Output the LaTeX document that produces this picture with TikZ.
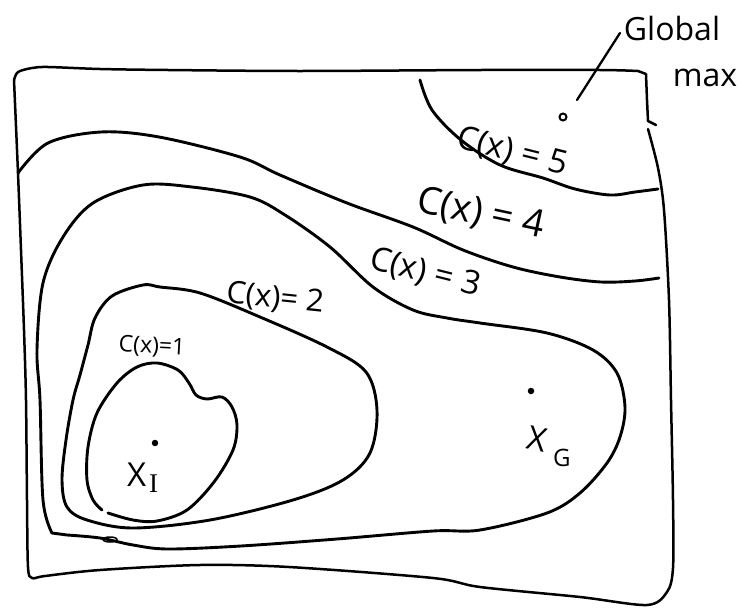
\documentclass[tikz,border=0pt]{standalone}
\usepackage{fontspec}
\setmainfont{Open Sans}
\newfontfamily\serifI{Liberation Serif}
\begin{document}
\begin{tikzpicture}[x=1pt,y=-1pt,
  contour/.style={line width=2.9pt,line cap=round,line join=round,smooth,tension=0.55},
  framestyle/.style={line width=2.5pt,line cap=round,line join=round},
  lab/.style={inner sep=0pt,font=\fontsize{#1}{#1}\selectfont},
  fdot/.style={circle,fill=black,inner sep=0pt,minimum size=6.5pt},
  hdot/.style={circle,draw=black,line width=2pt,inner sep=0pt,minimum size=7pt}]
\useasboundingbox (0,0) rectangle (748,608);
% frame
\draw[framestyle] plot[smooth,tension=0.5] coordinates {(14,80) (18,72) (32,68) (48,67) (100,69) (168,70) (300,71) (481,70) (600,70) (638,71)};
\draw[framestyle] (638,71) -- (646,74) -- (647,100) -- (648,121) -- (656,125);
\draw[framestyle] plot[smooth,tension=0.5] coordinates {(648,129) (658,168) (664,210) (669,300) (671,400) (673,500) (673,568) (667,592) (647,605) (580,597) (480,587) (433,578) (289,567) (200,565) (100,570) (45,576) (32,578) (28,567) (27,500) (26,400) (24,330) (21,250) (18,173) (14,80)};
% C(x)=5
\draw[contour] plot coordinates {(420,80) (432,110) (461,140) (500,165) (543,178) (575,189) (610,195) (635,192) (658,189)};
% C(x)=4
\draw[contour] plot coordinates {(18,173) (48,143) (101,132) (159,137) (240,157) (280,175) (347,203) (413,227) (463,250) (513,267) (560,277) (601,282) (635,281) (659,278)};
% C(x)=3
\draw[contour] plot coordinates {(52,533) (43,500) (40,400) (37,350) (43,283) (63,237) (93,203) (143,185) (192,187) (250,197) (285,215) (330,247) (373,287) (413,310) (447,318) (480,323) (547,333) (593,350) (617,373) (625,407) (620,437) (607,463) (580,493) (547,513) (480,530) (433,531) (337,539) (241,546) (168,549) (133,545) (100,538) (67,535)} -- cycle;
\draw[line width=1.5pt] (110,539.5) ellipse [x radius=7,y radius=2.5];
% C(x)=2
\draw[contour] plot[smooth cycle] coordinates {(143,285) (160,287) (200,293) (260,317) (327,347) (366,372) (377,410) (370,453) (343,480) (293,500) (210,520) (133,528) (87,520) (67,507) (62,480) (66,440) (73,400) (80,375) (88,345) (95,318) (112,296)};
% C(x)=1
\draw[contour] plot coordinates {(108,513) (133,520) (157,521) (187,510) (214,482) (233,450) (237,425) (232,407) (222,397) (207,399) (196,395) (189,383) (178,370) (157,363) (137,367) (117,383) (97,413) (88,447) (87,480) (93,500) (102,510)};
% dots
\node[fdot] (xI) at (155,443) {};
\node[fdot] (xG) at (531,391) {};
\node[hdot] (gmax) at (563,117) {};
% labels
\node[lab=33,rotate=-14] (l5) at (512,152) {C(x) = 5};
\node[lab=38,rotate=-12] (l4) at (481,214) {C(x) = 4};
\node[lab=33,rotate=-14] (l3) at (425,273) {C(x) = 3};
\node[lab=31,rotate=-6] (l2) at (275,299) {C(x)= 2};
\node[lab=23,rotate=-3] (l1) at (152,347) {C(x)=1};
\node[lab=32] (lglobal) at (672,28) {Global};
\node[lab=32] (lmax) at (705,78) {max};
\node[lab=33,anchor=base west] (lxI) at (127,486) {X};
\node[lab=27,anchor=base west,font=\fontsize{27}{27}\serifI] (lxIsub) at (149,492) {I};
\node[lab=33,anchor=base west,rotate=-12] (lxG) at (525,448) {X};
\node[lab=24,anchor=base west] (lxGsub) at (553,466) {G};
% pointer
\coordinate (pA) at (577,100);
\coordinate (pB) at (620,33);
\draw[line width=2.3pt,line cap=round] (pA) -- (pB);
\end{tikzpicture}
\end{document}
